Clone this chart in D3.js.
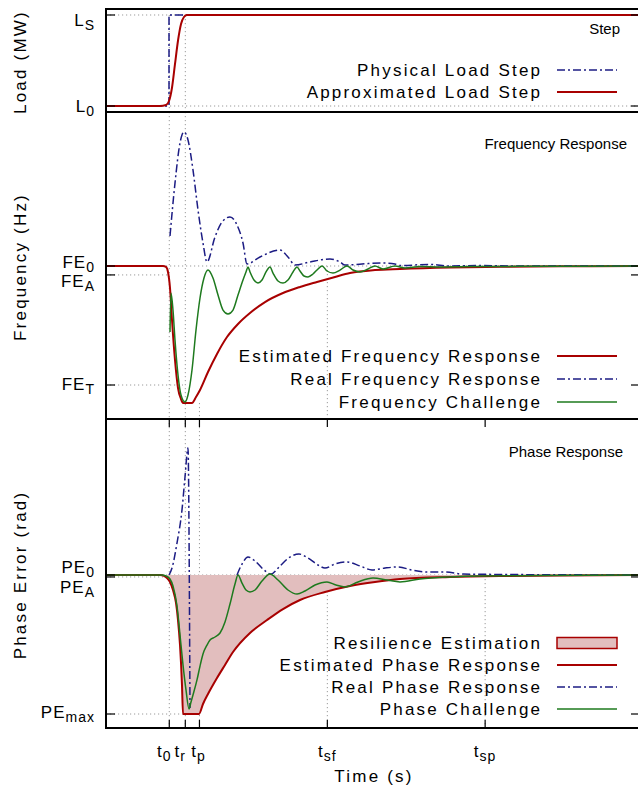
<!DOCTYPE html>
<html><head><meta charset="utf-8">
<script src="https://cdn.jsdelivr.net/npm/d3@7/dist/d3.min.js"></script>
<style>
body{margin:0;background:#fff}
svg{display:block}
text{font-family:"Liberation Sans",Arial,Helvetica,sans-serif;fill:#000}
</style>
</head><body>
<svg id="c" width="638" height="797"></svg>
<script>
// ---------------- DATA ----------------
// time axis (s, arbitrary scale)
const xTickValues = [2.37, 2.97, 3.50, 8.29, 14.20];
const xTickLabels = [["t","0"],["t","r"],["t","p"],["t","sf"],["t","sp"]];

// Load panel
const loadTickValues = [0, 1];
const loadTickLabels = [["L","0"],["L","S"]];
const physLoadTime = [0, 2.36, 2.36, 20];
const physLoad     = [0, 0, 1, 1];
const approxLoadTime = [0, 2.02, 2.25, 2.36, 2.47, 2.58, 2.70, 2.81, 2.92, 3.03, 20];
const approxLoad     = [0, 0, 0.011, 0.055, 0.198, 0.451, 0.725, 0.901, 0.978, 1, 1];

// Frequency panel
const freqTickValues = [0, -0.075, -1];
const freqTickLabels = [["FE","0"],["FE","A"],["FE","T"]];
const estFreqTime = [0,2.135,2.247,2.322,2.397,2.472,2.584,2.697,2.809,2.884,3.221,3.371,3.521,3.820,4.157,4.532,4.944,5.393,5.955,6.629,7.266,7.903,8.577,9.139,10.075,11.011,12.884,14.757,17.004,20];
const estFreq     = [0,0,-0.008,-0.050,-0.185,-0.454,-0.790,-1.025,-1.118,-1.151,-1.151,-1.101,-1.042,-0.891,-0.739,-0.597,-0.487,-0.395,-0.303,-0.227,-0.176,-0.134,-0.092,-0.059,-0.034,-0.025,-0.013,-0.007,-0.003,0];
const realFreqTime = [2.397,2.584,2.772,2.921,3.071,3.258,3.446,3.633,3.783,4.082,4.345,4.644,4.906,5.131,5.281,5.768,6.517,6.816,7.079,7.640,8.390,8.764,8.951,9.588,10.375,10.824,11.011,12.135,12.884,14.007,15.506,20];
const realFreq     = [0.252,0.697,1.034,1.126,1.059,0.807,0.471,0.193,0.034,0.244,0.370,0.412,0.345,0.193,0.017,0.076,0.134,0.076,0.008,0.034,0.059,0.034,0.008,0.017,0.025,0.017,0.004,0.013,0,0.004,0,0];
const freqChalTime = [2.397,2.434,2.509,2.584,2.697,2.809,2.959,3.071,3.221,3.371,3.521,3.670,3.820,4.007,4.195,4.382,4.569,4.757,4.944,5.131,5.243,5.318,5.393,5.543,5.693,5.843,5.993,6.142,6.255,6.442,6.629,6.816,7.004,7.154,7.266,7.416,7.566,7.753,7.940,8.090,8.277,8.502,8.764,9.026,9.251,9.513,9.813,10.075,10.375,10.824,11.199,11.760,12.509,13.633,15.506,20];
const freqChal     = [-0.555,-0.227,-0.370,-0.622,-0.916,-1.084,-1.143,-1.084,-0.874,-0.538,-0.269,-0.101,-0.034,-0.101,-0.244,-0.370,-0.403,-0.370,-0.244,-0.118,-0.050,-0.008,-0.050,-0.118,-0.143,-0.118,-0.050,-0.008,-0.059,-0.126,-0.143,-0.118,-0.050,-0.008,-0.042,-0.084,-0.092,-0.067,-0.025,0,-0.042,-0.059,-0.034,0,-0.034,-0.050,-0.025,0,-0.025,0,-0.017,-0.004,-0.008,-0.004,-0.003,0];

// Phase panel
const phaseTickValues = [0, -0.014, -1];
const phaseTickLabels = [["PE","0"],["PE","A"],["PE","max"]];
const estPhaseTime = [0,2.022,2.172,2.285,2.397,2.509,2.622,2.697,2.772,2.846,2.884,3.483,3.633,3.820,4.157,4.457,4.757,5.393,6.030,6.629,7.266,8.202,9.139,10.075,11.011,12.884,14.757,17.004,20];
const estPhase     = [0,0,-0.007,-0.022,-0.050,-0.108,-0.201,-0.324,-0.504,-0.791,-1,-1,-0.928,-0.856,-0.741,-0.647,-0.554,-0.417,-0.324,-0.245,-0.180,-0.122,-0.079,-0.050,-0.029,-0.014,-0.007,-0.004,0];
const realPhaseTime = [2.360,2.472,2.659,2.846,2.959,3.071,3.146,4.0,4.906,5.094,5.318,5.581,5.880,6.180,6.517,6.891,7.228,7.566,7.940,8.202,8.577,9.026,9.513,9.963,10.449,10.936,11.461,12.022,12.697,13.371,14.757,20];
const realPhase     = [0,0.050,0.230,0.468,0.705,0.914,-0.957,null,0,0.079,0.129,0.101,0.043,0.007,0.065,0.129,0.151,0.122,0.072,0.050,0.079,0.094,0.065,0.036,0.050,0.058,0.036,0.022,0.022,0.007,0.004,0];
const phaseChalTime = [0,2.097,2.247,2.397,2.509,2.659,2.772,2.884,2.996,3.109,3.184,3.258,3.408,3.521,3.633,3.783,3.895,4.082,4.270,4.457,4.644,4.831,4.944,5.094,5.243,5.393,5.581,5.843,6.142,6.442,6.816,7.154,7.453,7.828,8.277,8.614,8.951,9.438,10.000,10.524,11.011,11.760,12.884,14.007,16.255,20];
const phaseChal     = [0,0,-0.007,-0.029,-0.079,-0.223,-0.432,-0.647,-0.827,-0.964,-0.914,-0.863,-0.755,-0.655,-0.568,-0.504,-0.468,-0.446,-0.417,-0.338,-0.209,-0.065,0,-0.058,-0.108,-0.122,-0.108,-0.043,0.007,-0.036,-0.108,-0.137,-0.115,-0.072,-0.050,-0.072,-0.086,-0.050,-0.022,-0.036,-0.050,-0.029,-0.014,-0.007,-0.004,0];

const loadLegend  = ["Physical Load Step","Approximated Load Step"];
const freqLegend  = ["Estimated Frequency Response","Real Frequency Response","Frequency Challenge"];
const phaseLegend = ["Resilience Estimation","Estimated Phase Response","Real Phase Response","Phase Challenge"];
const panelTitles = ["Step","Frequency Response","Phase Response"];
const axisTitles  = ["Load (MW)","Frequency (Hz)","Phase Error (rad)"];
const xAxisTitle  = "Time (s)";

// ---------------- STYLE ----------------
const RED="#a80000", BLUE="#1c1c84", GREEN="#1e7a1e", FILL="#e2bebe", GRID="#9a9a9a";
const DASHDOT="8,3,2,3";
const LS=2.2;

const svg=d3.select("#c");
const L=106, R=640;
const x=d3.scaleLinear().domain([0,20]).range([L,R]);
const zip=(a,b)=>a.map((t,i)=>[t,b[i]]);
const [t0,tr,tp,tsf,tsp]=xTickValues;

function makePanel(name,top,bottom,dom){
  const y=d3.scaleLinear().domain(dom).range([bottom,top]);
  svg.append("clipPath").attr("id","clip-"+name).append("rect")
     .attr("x",L).attr("y",top).attr("width",R-L).attr("height",bottom-top);
  const g=svg.append("g").attr("clip-path",`url(#clip-${name})`);
  return {y,g,top,bottom};
}
function lineGen(y){return d3.line().defined(d=>d[1]!=null).x(d=>x(d[0])).y(d=>y(d[1])).curve(d3.curveMonotoneX);}
function dotted(g,x1,y1,x2,y2){
  g.append("line").attr("x1",x1).attr("y1",y1).attr("x2",x2).attr("y2",y2)
   .attr("stroke",GRID).attr("stroke-width",1).attr("stroke-dasharray","1.2,2.8");
}
function drawLine(p,data,color,w,dash){
  const path=p.g.append("path").datum(data).attr("d",lineGen(p.y)).attr("fill","none")
     .attr("stroke",color).attr("stroke-width",w).attr("stroke-linejoin","round");
  if(dash) path.attr("stroke-dasharray",dash);
}
function yTicks(p,vals,labels,offs){
  vals.forEach((v,i)=>{
    const yy=p.y(v);
    svg.append("line").attr("x1",L).attr("x2",L+9).attr("y1",yy).attr("y2",yy).attr("stroke","#000").attr("stroke-width",1.2);
    svg.append("line").attr("x1",R-9).attr("x2",R).attr("y1",yy).attr("y2",yy).attr("stroke","#000").attr("stroke-width",1.2);
    const t=svg.append("text").attr("x",95).attr("y",yy+offs[i]).attr("text-anchor","end")
      .style("font-size","17px").style("letter-spacing","1px");
    t.append("tspan").text(labels[i][0]);
    t.append("tspan").attr("dy",4).style("font-size","14px").text(labels[i][1]);
  });
}
function border(p){
  svg.append("rect").attr("x",L).attr("y",p.top).attr("width",R-L).attr("height",p.bottom-p.top)
     .attr("fill","none").attr("stroke","#000").attr("stroke-width",2);
}
function legend(names,startY,step,styles){
  names.forEach((n,i)=>{
    const cy=startY+i*step;
    svg.append("text").attr("x",540+LS).attr("y",cy+6).attr("text-anchor","end")
      .style("font-size","17px").style("letter-spacing",LS+"px").text(n);
    const s=styles[i];
    if(s.rect){
      svg.append("rect").attr("x",557).attr("y",cy-5.5).attr("width",60).attr("height",11)
        .attr("fill",FILL).attr("stroke",RED).attr("stroke-width",1.5);
    } else {
      const l=svg.append("line").attr("x1",557).attr("x2",617).attr("y1",cy).attr("y2",cy)
        .attr("stroke",s.color).attr("stroke-width",s.w);
      if(s.dash) l.attr("stroke-dasharray",s.dash);
    }
  });
}
function title(txt,xEnd,yBase){
  svg.append("text").attr("x",xEnd).attr("y",yBase).attr("text-anchor","end").style("font-size","15px").text(txt);
}
function yTitle(txt,cy){
  svg.append("text").attr("transform",`translate(26,${cy}) rotate(-90)`).attr("text-anchor","middle")
    .style("font-size","17px").style("letter-spacing",LS+"px").text(txt);
}

// ---------------- LOAD PANEL ----------------
const P1=makePanel("load",9,112,[-0.0659,1.0659]);
dotted(P1.g,L,P1.y(1),R,P1.y(1));
dotted(P1.g,L,P1.y(0),R,P1.y(0));
dotted(P1.g,x(t0),P1.y(1),x(t0),P1.bottom);
dotted(P1.g,x(tr),P1.y(1),x(tr),P1.bottom);
drawLine(P1,zip(physLoadTime,physLoad),BLUE,1.5,DASHDOT);
drawLine(P1,zip(approxLoadTime,approxLoad),RED,2);
border(P1);
yTicks(P1,loadTickValues,loadTickLabels,[6,11]);
title(panelTitles[0],620,34);
legend(loadLegend,70,22,[{color:BLUE,w:1.5,dash:DASHDOT},{color:RED,w:2}]);
yTitle(axisTitles[0],62);

// ---------------- FREQUENCY PANEL ----------------
const P2=makePanel("freq",112,419,[-1.2857,1.2941]);
const estFreqData=zip(estFreqTime,estFreq);
const fMinT=estFreqTime[estFreq.indexOf(d3.min(estFreq))];
dotted(P2.g,L,P2.y(freqTickValues[0]),R,P2.y(freqTickValues[0]));
dotted(P2.g,L,P2.y(freqTickValues[1]),x(t0),P2.y(freqTickValues[1]));
dotted(P2.g,L,P2.y(freqTickValues[2]),x(fMinT),P2.y(freqTickValues[2]));
dotted(P2.g,x(t0),P2.top,x(t0),P2.bottom);
dotted(P2.g,x(tr),P2.top,x(tr),P2.bottom);
dotted(P2.g,x(tp),P2.y(d3.min(estFreq)),x(tp),P2.bottom);
dotted(P2.g,x(tsf),P2.y(0),x(tsf),P2.bottom);
drawLine(P2,estFreqData,RED,2);
drawLine(P2,zip(realFreqTime,realFreq),BLUE,1.5,DASHDOT);
drawLine(P2,zip(freqChalTime,freqChal),GREEN,1.5);
border(P2);
yTicks(P2,freqTickValues,freqTickLabels,[2,12,5]);
title(panelTitles[1],627,149);
legend(freqLegend,356,23,[{color:RED,w:2},{color:BLUE,w:1.5,dash:DASHDOT},{color:GREEN,w:1.5}]);
yTitle(axisTitles[1],267);

// ---------------- PHASE PANEL ----------------
const P3=makePanel("phase",419,728,[-1.1007,1.1223]);
const estPhaseData=zip(estPhaseTime,estPhase);
const pMinT=estPhaseTime[estPhase.indexOf(d3.min(estPhase))];
dotted(P3.g,L,P3.y(phaseTickValues[0]),R,P3.y(phaseTickValues[0]));
dotted(P3.g,L,P3.y(phaseTickValues[1]),x(t0),P3.y(phaseTickValues[1]));
dotted(P3.g,L,P3.y(phaseTickValues[2]),x(pMinT),P3.y(phaseTickValues[2]));
[t0,tr,tp].forEach(t=>dotted(P3.g,x(t),P3.top,x(t),P3.bottom));
[tsf,tsp].forEach(t=>dotted(P3.g,x(t),P3.y(0),x(t),P3.bottom));
P3.g.append("path").datum(estPhaseData)
  .attr("d",d3.area().x(d=>x(d[0])).y0(P3.y(0)).y1(d=>P3.y(d[1])).curve(d3.curveMonotoneX))
  .attr("fill",FILL);
drawLine(P3,estPhaseData,RED,2);
drawLine(P3,zip(realPhaseTime,realPhase),BLUE,1.5,DASHDOT);
drawLine(P3,zip(phaseChalTime,phaseChal),GREEN,1.5);
border(P3);
yTicks(P3,phaseTickValues,phaseTickLabels,[-2,16,4]);
title(panelTitles[2],623,457);
legend(phaseLegend,643,22,[{rect:true},{color:RED,w:2},{color:BLUE,w:1.5,dash:DASHDOT},{color:GREEN,w:1.5}]);
yTitle(axisTitles[2],575);

// x ticks on phase panel
const xLabelDx=[-5,-5,-1,0,0];
xTickValues.forEach((t,i)=>{
  const xx=x(t);
  svg.append("line").attr("x1",xx).attr("x2",xx).attr("y1",P3.top).attr("y2",P3.top+8).attr("stroke","#000").attr("stroke-width",1.2);
  svg.append("line").attr("x1",xx).attr("x2",xx).attr("y1",P3.bottom-8).attr("y2",P3.bottom).attr("stroke","#000").attr("stroke-width",1.2);
  const tx=svg.append("text").attr("x",xx+xLabelDx[i]).attr("y",757).attr("text-anchor","middle")
    .style("font-size","17px").style("letter-spacing","1px");
  tx.append("tspan").text(xTickLabels[i][0]);
  tx.append("tspan").attr("dy",4).style("font-size","14px").text(xTickLabels[i][1]);
});
svg.append("text").attr("x",374).attr("y",782).attr("text-anchor","middle")
  .style("font-size","17px").style("letter-spacing",LS+"px").text(xAxisTitle);
</script>
</body></html>
